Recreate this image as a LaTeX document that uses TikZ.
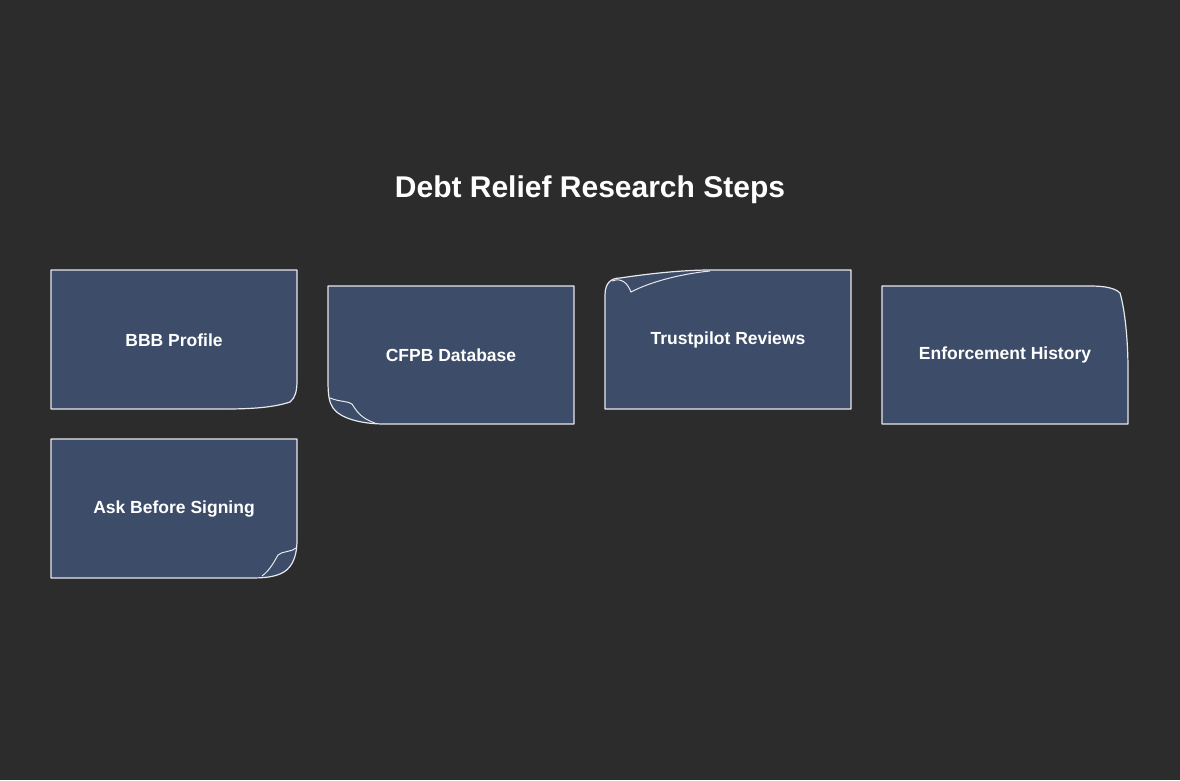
\documentclass[tikz,border=0pt]{standalone}
\usepackage{fontspec}
\setmainfont{Liberation Sans}
\definecolor{bgdark}{HTML}{2C2C2C}
\definecolor{notefill}{HTML}{3D4D69}
\definecolor{noteline}{HTML}{E6E8EE}
\tikzset{
  note/.style={fill=notefill,draw=noteline,line width=1.2pt,line join=round},
  fold/.style={draw=noteline,line width=1pt},
  label/.style={text=white,font=\bfseries\fontsize{17.5}{20}\selectfont}
}
\begin{document}
\begin{tikzpicture}[x=1pt,y=-1pt]
\fill[bgdark] (0,0) rectangle (1180,780);
\useasboundingbox (0,0) rectangle (1180,780);

% title
\node[text=white,font=\bfseries\fontsize{30}{34}\selectfont] (title) at (590,190) {Debt Relief Research Steps};

% BBB Profile, curl bottom right
\draw[note] (51,270) -- (297,270) -- (297,380) .. controls (297,392) and (295,398) .. (290,402) .. controls (275,407) and (255,409) .. (225,409) -- (51,409) -- cycle;
\node[label] (bbb) at (174,340) {BBB Profile};

% CFPB Database, fold bottom left
\draw[note] (328,286) -- (574,286) -- (574,424) -- (385,424) .. controls (360,424) and (340,418) .. (333,408) .. controls (329,402) and (328,395) .. (328,380) -- cycle;
\draw[fold] (330,398) .. controls (340,402) and (348,401) .. (352,404) .. controls (356,410) and (360,418) .. (375,423);
\node[label] (cfpb) at (451,355) {CFPB Database};

% Trustpilot Reviews, fold top left
\draw[note] (605,409) -- (605,295) .. controls (605,282) and (612,278) .. (620,278) .. controls (660,272) and (690,270) .. (710,270) -- (851,270) -- (851,409) -- cycle;
\draw[fold] (612,281) .. controls (622,277) and (628,284) .. (631,292) .. controls (650,282) and (680,274) .. (710,271);
\node[label] (trust) at (728,340) {Trustpilot Reviews};

% Enforcement History, curl top right
\draw[note] (882,286) -- (1090,286) .. controls (1105,286) and (1115,288) .. (1120,293) .. controls (1125,310) and (1128,340) .. (1128,370) -- (1128,424) -- (882,424) -- cycle;
\node[label] (enforce) at (1005,355) {Enforcement History};

% Ask Before Signing, fold bottom right
\draw[note] (51,439) -- (297,439) -- (297,540) .. controls (297,560) and (290,570) .. (280,574) .. controls (270,578) and (260,578) .. (245,578) -- (51,578) -- cycle;
\draw[fold] (296,548) .. controls (292,552) and (282,551) .. (278,555) .. controls (274,562) and (270,570) .. (262,576);
\node[label] (ask) at (174,509) {Ask Before Signing};
\end{tikzpicture}
\end{document}
